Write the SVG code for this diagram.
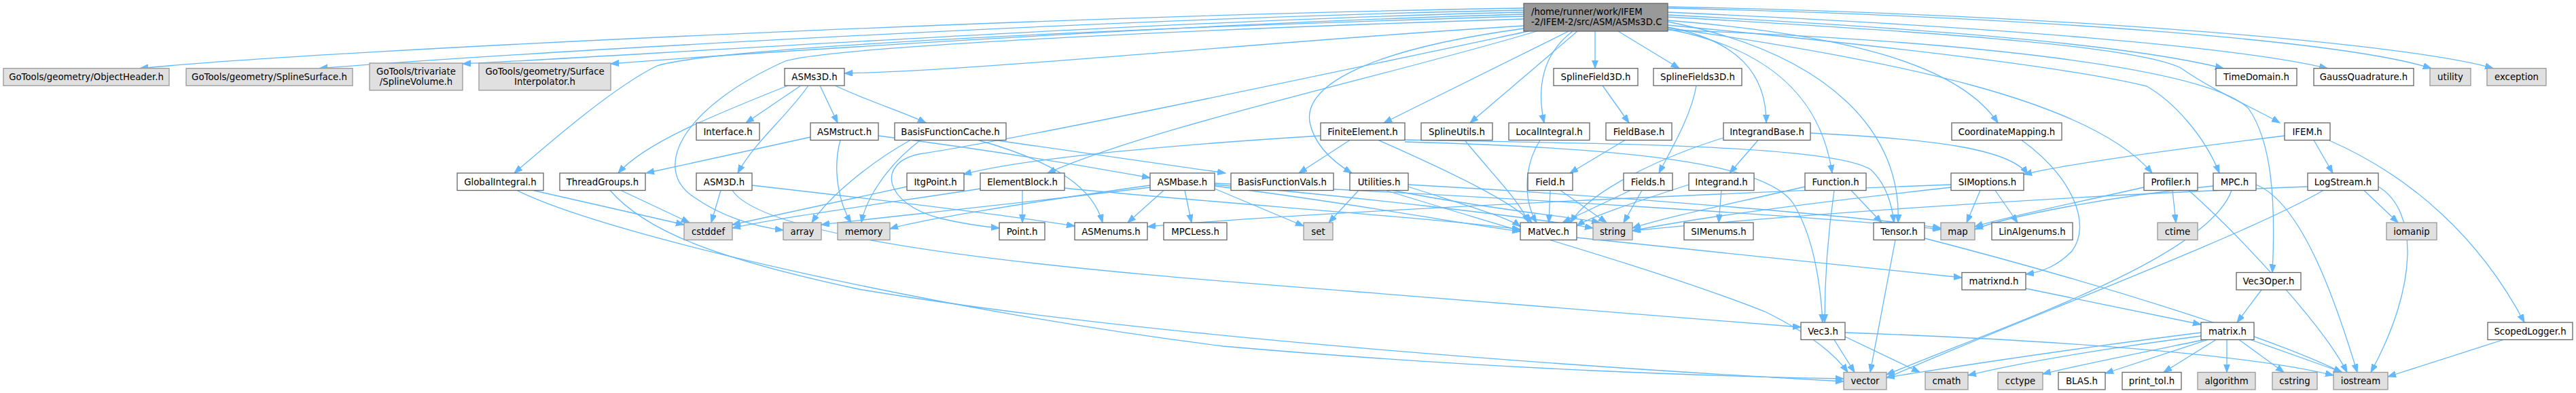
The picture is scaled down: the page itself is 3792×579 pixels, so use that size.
<svg xmlns="http://www.w3.org/2000/svg" width="3792" height="579" viewBox="0 0 3792 579">
<style>
.n rect{fill:#fff;stroke:#666;stroke-width:1.3}
.g rect{fill:#e0e0e0;stroke:#999;stroke-width:1.3}
.r rect{fill:#999;stroke:#666;stroke-width:1.3}
text{font-family:"DejaVu Sans","Liberation Sans",sans-serif;font-size:13.3px;fill:#000}
.c{text-anchor:middle}
#edges path{fill:none;stroke:#63b8ff;stroke-width:1.3;marker-end:url(#ah)}
</style>
<defs>
<marker id="ah" markerUnits="userSpaceOnUse" markerWidth="14" markerHeight="11" refX="12" refY="4.5" orient="auto"><path d="M0,0 L12,4.5 L0,9 Z" fill="#63b8ff" stroke="#63b8ff"/></marker>
</defs>
<rect width="3792" height="579" fill="#fff"/>
<g id="edges">
<path d="M2243,12 C1600,22 500,72 206,100.7"/>
<path d="M2243,15 C1650,26 760,78 470,100.7"/>
<path d="M2243,18 C1700,30 900,84 681,94"/>
<path d="M2243,21 C1750,34 1050,82 899,94"/>
<path d="M2243,38 C1900,58 1450,104 1243,108"/>
<path d="M2243,24 C1700,40 1060,68 967,97 C900,130 800,218 757,255"/>
<path d="M2243,28 C1700,45 1220,70 1156,90 C1000,160 960,250 1021,290 C1060,318 1110,334 1153,339"/>
<path d="M2262,46 C2050,110 1700,185 1542,255"/>
<path d="M2250,46 C1900,120 1500,205 1353,227 C1290,240 1300,300 1385,322 C1420,330 1450,334 1471,336"/>
<path d="M2309,46 L2037,181"/>
<path d="M2322,46 L2164,181"/>
<path d="M2315,46 C2270,80 2262,130 2273,181"/>
<path d="M2348,46 L2348,100.7"/>
<path d="M2382,46 L2472,100.7"/>
<path d="M2243,42 C2000,75 1920,130 1928,180 C1935,215 1965,240 1990,255"/>
<path d="M2455,40 C2560,60 2600,110 2600,181"/>
<path d="M2455,43 C2600,70 2680,140 2697,255"/>
<path d="M2455,32 C2700,80 2800,200 2794,328"/>
<path d="M2455,30 C2700,50 2880,90 2941,181"/>
<path d="M2455,25 C2900,50 3150,70 3210,100 C3260,135 3320,160 3356,181"/>
<path d="M2455,22 C2900,45 3150,70 3273,100.7"/>
<path d="M2455,18 C2950,40 3300,70 3426,100.7"/>
<path d="M2455,12 C3000,25 3450,60 3579,100.7"/>
<path d="M2455,10 C3050,22 3550,65 3670,100.7"/>
<path d="M2455,37 C2800,70 3050,100 3160,127 C3200,150 3245,200 3267,255"/>
<path d="M2455,41 C2800,90 3080,150 3168,255"/>
<path d="M2455,44 C2900,60 3250,100 3310,160 C3345,210 3350,300 3345,401.5"/>
<path d="M1179,126 L1098,181"/>
<path d="M1207,126 L1233,181"/>
<path d="M1190,126 C1160,170 1110,210 1086,255"/>
<path d="M1160,126 C1050,170 950,210 910,255"/>
<path d="M1229,126 C1280,150 1330,165 1363,181"/>
<path d="M1193,202 L951,255"/>
<path d="M1293,200 C1450,220 1600,245 1693,262"/>
<path d="M1237,206.5 C1225,250 1235,300 1253,328"/>
<path d="M1465,206.5 L1804,255"/>
<path d="M1340,206.5 C1280,240 1220,290 1195,328"/>
<path d="M1355,206.5 C1310,240 1275,290 1268,328"/>
<path d="M1440,206.5 C1560,240 1610,280 1623,328"/>
<path d="M1061,280.5 L1047,328"/>
<path d="M1107,273 C1300,295 1500,320 1582,333"/>
<path d="M1078,280.5 C1130,360 1600,400 2000,430 C2300,455 2550,475 2651,482"/>
<path d="M785,280.5 L1007,331"/>
<path d="M761,280.5 C900,350 1400,460 1800,510 C2200,545 2550,555 2714,558"/>
<path d="M914,280.5 L1015,328"/>
<path d="M898,280.5 C950,340 1050,380 1264,426 C1700,500 2400,545 2714,562"/>
<path d="M1335,275 L1078,331"/>
<path d="M1505,280.5 L1505,328"/>
<path d="M1443,278 C1300,300 1150,320 1078,336"/>
<path d="M1566,277 C1800,300 2100,320 2238,338"/>
<path d="M1713,280.5 L1660,328"/>
<path d="M1744,280.5 L1754,328"/>
<path d="M1693,273 C1500,300 1350,325 1310,337"/>
<path d="M1693,276 C1500,300 1300,320 1209,331"/>
<path d="M1788,278 L1919,333"/>
<path d="M1788,274 C2000,300 2150,330 2238,341"/>
<path d="M1788,272 C2000,290 2250,320 2345,336"/>
<path d="M1788,270 C2200,290 2700,320 2857,338"/>
<path d="M2872,272 C2400,290 1900,315 1689,334"/>
<path d="M2937,280.5 L2970,328"/>
<path d="M2915,280.5 L2895,328"/>
<path d="M2872,276 C2700,295 2500,320 2403,340"/>
<path d="M1944,200 C1700,215 1500,235 1418,257"/>
<path d="M1987,206.5 L1912,255"/>
<path d="M2029,206.5 C2150,260 2230,300 2255,328"/>
<path d="M2068,206 C2400,212 2700,215 2754,250 C2775,270 2785,300 2788,328"/>
<path d="M2068,209 C2400,218 2600,240 2640,300 C2670,350 2680,420 2683,475"/>
<path d="M2000,280.5 L1956,328"/>
<path d="M2073,275 C2150,300 2220,320 2238,334"/>
<path d="M2050,280.5 C2200,310 2320,320 2355,328"/>
<path d="M2073,272 C2400,290 2750,320 2857,336"/>
<path d="M2040,280.5 C2200,330 2450,400 2600,460 C2660,490 2700,520 2720,548.5"/>
<path d="M2156,206.5 C2200,260 2240,300 2250,328"/>
<path d="M2267,206.5 C2240,250 2245,300 2262,328"/>
<path d="M2392,206.5 L2311,255"/>
<path d="M2359,126 L2398,181"/>
<path d="M2497,126 C2490,170 2460,220 2442,255"/>
<path d="M2282,280.5 L2280,328"/>
<path d="M2297,280.5 L2365,328"/>
<path d="M2400,280.5 L2300,328"/>
<path d="M2417,280.5 L2390,328"/>
<path d="M2588,206.5 L2546,255"/>
<path d="M2537,203 C2450,230 2340,280 2312,328"/>
<path d="M2665,196 C2850,205 2960,220 2985,257"/>
<path d="M2534,280.5 L2530,328"/>
<path d="M2486,272 C2400,300 2340,320 2321,333"/>
<path d="M2700,280.5 C2690,350 2686,420 2686,475"/>
<path d="M2725,280.5 L2770,328"/>
<path d="M2657,275 C2550,300 2450,320 2403,336"/>
<path d="M3198,280.5 L3203,328"/>
<path d="M3160,275 C3050,300 2950,320 2907,334"/>
<path d="M3222,280.5 C3300,350 3420,480 3455,548.5"/>
<path d="M3285,280.5 C3250,380 2950,480 2777,552"/>
<path d="M3321,272 C3390,300 3440,450 3470,548.5"/>
<path d="M3258,274 C3100,290 2950,320 2907,338"/>
<path d="M3480,280.5 L3530,328"/>
<path d="M3501,275 C3560,310 3560,420 3490,548.5"/>
<path d="M3420,280.5 C3300,350 2950,480 2777,557"/>
<path d="M3397,275 C3000,290 2600,320 2403,340"/>
<path d="M3363,200 C3200,220 3050,240 2979,257"/>
<path d="M3406,206.5 L3434,255"/>
<path d="M3428,206.5 C3550,260 3650,350 3716,475"/>
<path d="M3685,500.5 L3515,555"/>
<path d="M2790,353.5 L2753,548.5"/>
<path d="M2833,351 C3100,420 3350,500 3447,548.5"/>
<path d="M2982,425 L3240,478"/>
<path d="M2976,206.5 C3050,260 3080,330 3050,370 C3030,390 3010,400 2982,404"/>
<path d="M2321,350 C2600,380 2800,400 2888,409"/>
<path d="M2700,500.5 L2730,548.5"/>
<path d="M2716,496 L2826,548.5"/>
<path d="M2716,490 C3000,500 3300,520 3435,553"/>
<path d="M3329,427 L3293,475"/>
<path d="M3240,490 C3000,520 2850,545 2777,556"/>
<path d="M3240,495 C3050,520 2950,540 2897,553"/>
<path d="M3245,500.5 C3150,520 3050,540 3007,551"/>
<path d="M3250,500.5 L3099,550"/>
<path d="M3262,500.5 L3185,548.5"/>
<path d="M3278,500.5 L3278,548.5"/>
<path d="M3296,500.5 L3362,548.5"/>
<path d="M3313,500.5 L3448,548.5"/>
</g>
<g id="root" class="r"><rect x="2243" y="5" width="212" height="41"/><text x="2254" y="21.5">/home/runner/work/IFEM</text><text x="2254" y="37">-2/IFEM-2/src/ASM/ASMs3D.C</text></g>
<g id="objhdr" class="g"><rect x="5" y="100.7" width="244" height="25.5"/><text class="c" x="127" y="118.2">GoTools/geometry/ObjectHeader.h</text></g>
<g id="splsurf" class="g"><rect x="274" y="100.7" width="245" height="25.5"/><text class="c" x="396.5" y="118.2">GoTools/geometry/SplineSurface.h</text></g>
<g id="splvol" class="g"><rect x="544" y="93" width="137" height="40"/><text class="c" x="612.5" y="110">GoTools/trivariate</text><text class="c" x="612.5" y="125">/SplineVolume.h</text></g>
<g id="surfint" class="g"><rect x="705" y="93" width="194" height="40"/><text class="c" x="802" y="110">GoTools/geometry/Surface</text><text class="c" x="802" y="125">Interpolator.h</text></g>
<g id="asms3d" class="n"><rect x="1155" y="100.7" width="88" height="25.5"/><text class="c" x="1199" y="118.2">ASMs3D.h</text></g>
<g id="splfield3d" class="n"><rect x="2287" y="100.7" width="124" height="25.5"/><text class="c" x="2349" y="118.2">SplineField3D.h</text></g>
<g id="splfields3d" class="n"><rect x="2434" y="100.7" width="130" height="25.5"/><text class="c" x="2499" y="118.2">SplineFields3D.h</text></g>
<g id="timedomain" class="n"><rect x="3262" y="100.7" width="119" height="25.5"/><text class="c" x="3321.5" y="118.2">TimeDomain.h</text></g>
<g id="gaussq" class="n"><rect x="3406" y="100.7" width="147" height="25.5"/><text class="c" x="3479.5" y="118.2">GaussQuadrature.h</text></g>
<g id="utility" class="g"><rect x="3577" y="100.7" width="60" height="25.5"/><text class="c" x="3607" y="118.2">utility</text></g>
<g id="exception" class="g"><rect x="3661" y="100.7" width="87" height="25.5"/><text class="c" x="3704.5" y="118.2">exception</text></g>
<g id="interface" class="n"><rect x="1025" y="181" width="93" height="25.5"/><text class="c" x="1071.5" y="198.5">Interface.h</text></g>
<g id="asmstruct" class="n"><rect x="1193" y="181" width="100" height="25.5"/><text class="c" x="1243" y="198.5">ASMstruct.h</text></g>
<g id="bfcache" class="n"><rect x="1317" y="181" width="164" height="25.5"/><text class="c" x="1399" y="198.5">BasisFunctionCache.h</text></g>
<g id="finiteel" class="n"><rect x="1944" y="181" width="124" height="25.5"/><text class="c" x="2006" y="198.5">FiniteElement.h</text></g>
<g id="splutils" class="n"><rect x="2092" y="181" width="105" height="25.5"/><text class="c" x="2144.5" y="198.5">SplineUtils.h</text></g>
<g id="localint" class="n"><rect x="2221" y="181" width="119" height="25.5"/><text class="c" x="2280.5" y="198.5">LocalIntegral.h</text></g>
<g id="fieldbase" class="n"><rect x="2364" y="181" width="97" height="25.5"/><text class="c" x="2412.5" y="198.5">FieldBase.h</text></g>
<g id="integrandbase" class="n"><rect x="2537" y="181" width="128" height="25.5"/><text class="c" x="2601" y="198.5">IntegrandBase.h</text></g>
<g id="coordmap" class="n"><rect x="2873" y="181" width="162" height="25.5"/><text class="c" x="2954" y="198.5">CoordinateMapping.h</text></g>
<g id="ifem" class="n"><rect x="3363" y="181" width="67" height="25.5"/><text class="c" x="3396.5" y="198.5">IFEM.h</text></g>
<g id="globalint" class="n"><rect x="673" y="255" width="127" height="25.5"/><text class="c" x="736.5" y="272.5">GlobalIntegral.h</text></g>
<g id="threadgroups" class="n"><rect x="824" y="255" width="126" height="25.5"/><text class="c" x="887" y="272.5">ThreadGroups.h</text></g>
<g id="asm3d" class="n"><rect x="1025" y="255" width="82" height="25.5"/><text class="c" x="1066" y="272.5">ASM3D.h</text></g>
<g id="itgpoint" class="n"><rect x="1335" y="255" width="84" height="25.5"/><text class="c" x="1377" y="272.5">ItgPoint.h</text></g>
<g id="elementblock" class="n"><rect x="1443" y="255" width="124" height="25.5"/><text class="c" x="1505" y="272.5">ElementBlock.h</text></g>
<g id="asmbase" class="n"><rect x="1693" y="255" width="95" height="25.5"/><text class="c" x="1740.5" y="272.5">ASMbase.h</text></g>
<g id="bfvals" class="n"><rect x="1812" y="255" width="151" height="25.5"/><text class="c" x="1887.5" y="272.5">BasisFunctionVals.h</text></g>
<g id="utilities" class="n"><rect x="1987" y="255" width="86" height="25.5"/><text class="c" x="2030" y="272.5">Utilities.h</text></g>
<g id="field" class="n"><rect x="2249" y="255" width="66" height="25.5"/><text class="c" x="2282" y="272.5">Field.h</text></g>
<g id="fields" class="n"><rect x="2390" y="255" width="72" height="25.5"/><text class="c" x="2426" y="272.5">Fields.h</text></g>
<g id="integrand" class="n"><rect x="2486" y="255" width="96" height="25.5"/><text class="c" x="2534" y="272.5">Integrand.h</text></g>
<g id="function" class="n"><rect x="2657" y="255" width="90" height="25.5"/><text class="c" x="2702" y="272.5">Function.h</text></g>
<g id="simoptions" class="n"><rect x="2872" y="255" width="107" height="25.5"/><text class="c" x="2925.5" y="272.5">SIMoptions.h</text></g>
<g id="profiler" class="n"><rect x="3156" y="255" width="79" height="25.5"/><text class="c" x="3195.5" y="272.5">Profiler.h</text></g>
<g id="mpc" class="n"><rect x="3258" y="255" width="63" height="25.5"/><text class="c" x="3289.5" y="272.5">MPC.h</text></g>
<g id="logstream" class="n"><rect x="3397" y="255" width="104" height="25.5"/><text class="c" x="3449" y="272.5">LogStream.h</text></g>
<g id="cstddef" class="g"><rect x="1007" y="328" width="71" height="25.5"/><text class="c" x="1042.5" y="345.5">cstddef</text></g>
<g id="array" class="g"><rect x="1153" y="328" width="56" height="25.5"/><text class="c" x="1181" y="345.5">array</text></g>
<g id="memory" class="g"><rect x="1233" y="328" width="77" height="25.5"/><text class="c" x="1271.5" y="345.5">memory</text></g>
<g id="point" class="n"><rect x="1471" y="328" width="67" height="25.5"/><text class="c" x="1504.5" y="345.5">Point.h</text></g>
<g id="asmenums" class="n"><rect x="1582" y="328" width="107" height="25.5"/><text class="c" x="1635.5" y="345.5">ASMenums.h</text></g>
<g id="mpcless" class="n"><rect x="1713" y="328" width="93" height="25.5"/><text class="c" x="1759.5" y="345.5">MPCLess.h</text></g>
<g id="set" class="g"><rect x="1919" y="328" width="43" height="25.5"/><text class="c" x="1940.5" y="345.5">set</text></g>
<g id="matvec" class="n"><rect x="2238" y="328" width="83" height="25.5"/><text class="c" x="2279.5" y="345.5">MatVec.h</text></g>
<g id="string" class="g"><rect x="2345" y="328" width="58" height="25.5"/><text class="c" x="2374" y="345.5">string</text></g>
<g id="simenums" class="n"><rect x="2479" y="328" width="102" height="25.5"/><text class="c" x="2530" y="345.5">SIMenums.h</text></g>
<g id="tensor" class="n"><rect x="2758" y="328" width="75" height="25.5"/><text class="c" x="2795.5" y="345.5">Tensor.h</text></g>
<g id="map" class="g"><rect x="2857" y="328" width="50" height="25.5"/><text class="c" x="2882" y="345.5">map</text></g>
<g id="linalgenums" class="n"><rect x="2932" y="328" width="119" height="25.5"/><text class="c" x="2991.5" y="345.5">LinAlgenums.h</text></g>
<g id="ctime" class="g"><rect x="3176" y="328" width="59" height="25.5"/><text class="c" x="3205.5" y="345.5">ctime</text></g>
<g id="iomanip" class="g"><rect x="3513" y="328" width="74" height="25.5"/><text class="c" x="3550" y="345.5">iomanip</text></g>
<g id="matrixnd" class="n"><rect x="2888" y="401.5" width="94" height="25.5"/><text class="c" x="2935" y="419">matrixnd.h</text></g>
<g id="vec3oper" class="n"><rect x="3292" y="401.5" width="95" height="25.5"/><text class="c" x="3339.5" y="419">Vec3Oper.h</text></g>
<g id="vec3" class="n"><rect x="2651" y="475" width="65" height="25.5"/><text class="c" x="2683.5" y="492.5">Vec3.h</text></g>
<g id="matrix" class="n"><rect x="3240" y="475" width="78" height="25.5"/><text class="c" x="3279" y="492.5">matrix.h</text></g>
<g id="scopedlogger" class="n"><rect x="3662" y="475" width="125" height="25.5"/><text class="c" x="3724.5" y="492.5">ScopedLogger.h</text></g>
<g id="vector" class="g"><rect x="2714" y="548.5" width="63" height="25.5"/><text class="c" x="2745.5" y="566">vector</text></g>
<g id="cmath" class="g"><rect x="2834" y="548.5" width="63" height="25.5"/><text class="c" x="2865.5" y="566">cmath</text></g>
<g id="cctype" class="g"><rect x="2941" y="548.5" width="66" height="25.5"/><text class="c" x="2974" y="566">cctype</text></g>
<g id="blas" class="n"><rect x="3030" y="548.5" width="69" height="25.5"/><text class="c" x="3064.5" y="566">BLAS.h</text></g>
<g id="printtol" class="n"><rect x="3124" y="548.5" width="87" height="25.5"/><text class="c" x="3167.5" y="566">print_tol.h</text></g>
<g id="algorithm" class="g"><rect x="3235" y="548.5" width="85" height="25.5"/><text class="c" x="3277.5" y="566">algorithm</text></g>
<g id="cstring" class="g"><rect x="3345" y="548.5" width="66" height="25.5"/><text class="c" x="3378" y="566">cstring</text></g>
<g id="iostream" class="g"><rect x="3435" y="548.5" width="80" height="25.5"/><text class="c" x="3475" y="566">iostream</text></g>
</svg>
